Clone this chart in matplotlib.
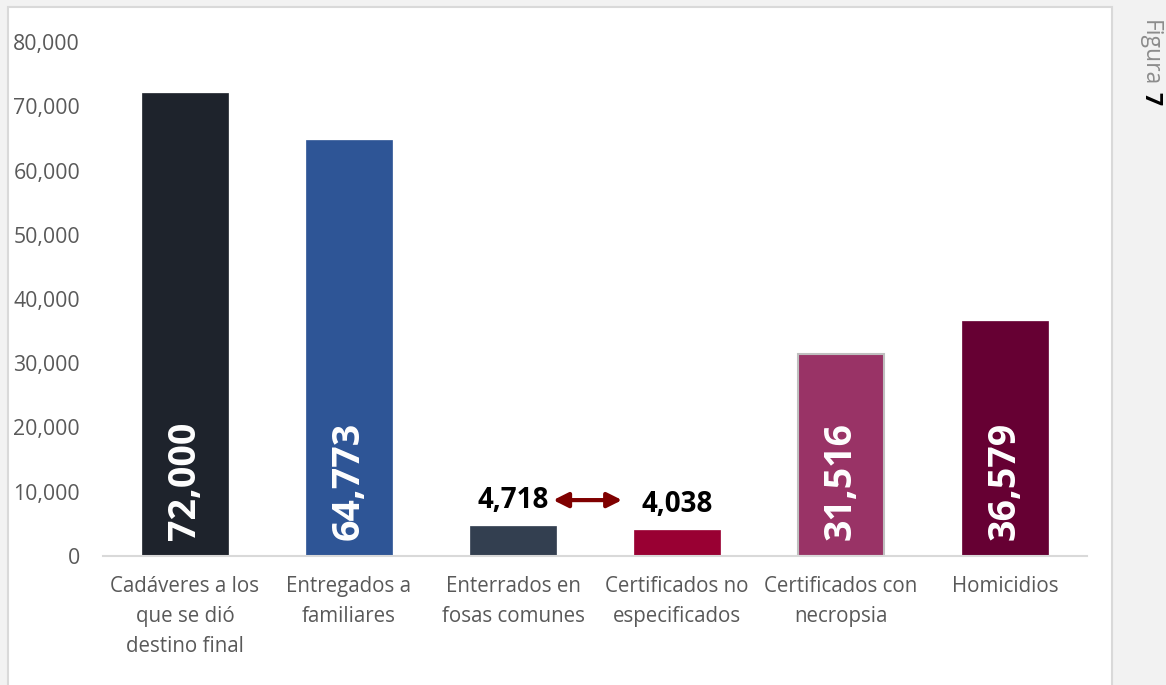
import matplotlib

matplotlib.use("Agg")
import matplotlib.pyplot as plt
from matplotlib.patches import Rectangle
from matplotlib.ticker import FuncFormatter

W, H = 1166, 685

categories = [
    "Cadáveres a los\nque se dió\ndestino final",
    "Entregados a\nfamiliares",
    "Enterrados en\nfosas comunes",
    "Certificados no\nespecificados",
    "Certificados con\nnecropsia",
    "Homicidios",
]
values = [72000, 64773, 4718, 4038, 31516, 36579]
colors = ["#1e232c", "#2e5596", "#333f50", "#990033", "#993366", "#660033"]
edges = [None, None, None, None, "#bfbfbf", None]
# values too short to hold a label inside the bar
small = [False, False, True, True, False, False]

plt.rcParams["font.family"] = ["Open Sans", "DejaVu Sans"]

fig = plt.figure(figsize=(W / 100, H / 100), dpi=100, facecolor="#f2f2f2")

# white chart panel with a light border
fig.patches.append(Rectangle((8 / W, -0.01), (1112 - 8) / W, 1.01 - 7 / H,
                             transform=fig.transFigure, facecolor="white",
                             edgecolor="#d9d9d9", lw=1.5, zorder=0))

ax = fig.add_axes([103 / W, (H - 556) / H, 984 / W, 514 / H])
ax.set_zorder(1)
ax.set_facecolor("none")
x = range(len(values))
for i, (v, c, e) in enumerate(zip(values, colors, edges)):
    ax.bar(i, v, width=0.53, color=c,
           edgecolor=e if e else c, lw=1.5 if e else 0.5, zorder=2)
    label = f"{v:,}"
    if small[i]:
        ax.annotate(label, (i, v), xytext=(0, 8), textcoords="offset points",
                    ha="center", va="bottom", fontsize=20, fontweight="bold",
                    color="black")
    else:
        ax.text(i, 2500, label, rotation=90, ha="center", va="bottom",
                fontsize=27, fontweight="bold", color="white", zorder=3)

# double arrow between the two small bars
ax.annotate("", xy=(2.665, 8700), xytext=(2.245, 8700),
            arrowprops=dict(arrowstyle="<|-|>", color="#7f0000", lw=3,
                            mutation_scale=22, shrinkA=0, shrinkB=0))

ax.set_xlim(-0.5, 5.5)
ax.set_ylim(0, 80000)
ax.set_yticks(range(0, 80001, 10000))
ax.yaxis.set_major_formatter(FuncFormatter(lambda v, _: f"{int(v):,}"))
ax.set_xticks(list(x))
ax.set_xticklabels(categories, fontsize=14.8, color="#595959", linespacing=1.55)
ax.tick_params(axis="y", labelsize=15.3, labelcolor="#595959", length=0, pad=16.5)
ax.tick_params(axis="x", length=0, pad=14.5)
for side in ("left", "right", "top"):
    ax.spines[side].set_visible(False)
ax.spines["bottom"].set_color("#d9d9d9")
ax.spines["bottom"].set_linewidth(1.5)

fig.text(1150 / W, 1 - 20 / H, "Figura", rotation=-90, ha="center", va="top",
         fontsize=16.5, color="#8c8c8c")
fig.text(1150 / W, 1 - 92 / H, "7", rotation=-90, ha="center", va="top",
         fontsize=16.5, fontweight="bold", color="black")

fig.savefig("out.png", dpi=100, facecolor=fig.get_facecolor())
